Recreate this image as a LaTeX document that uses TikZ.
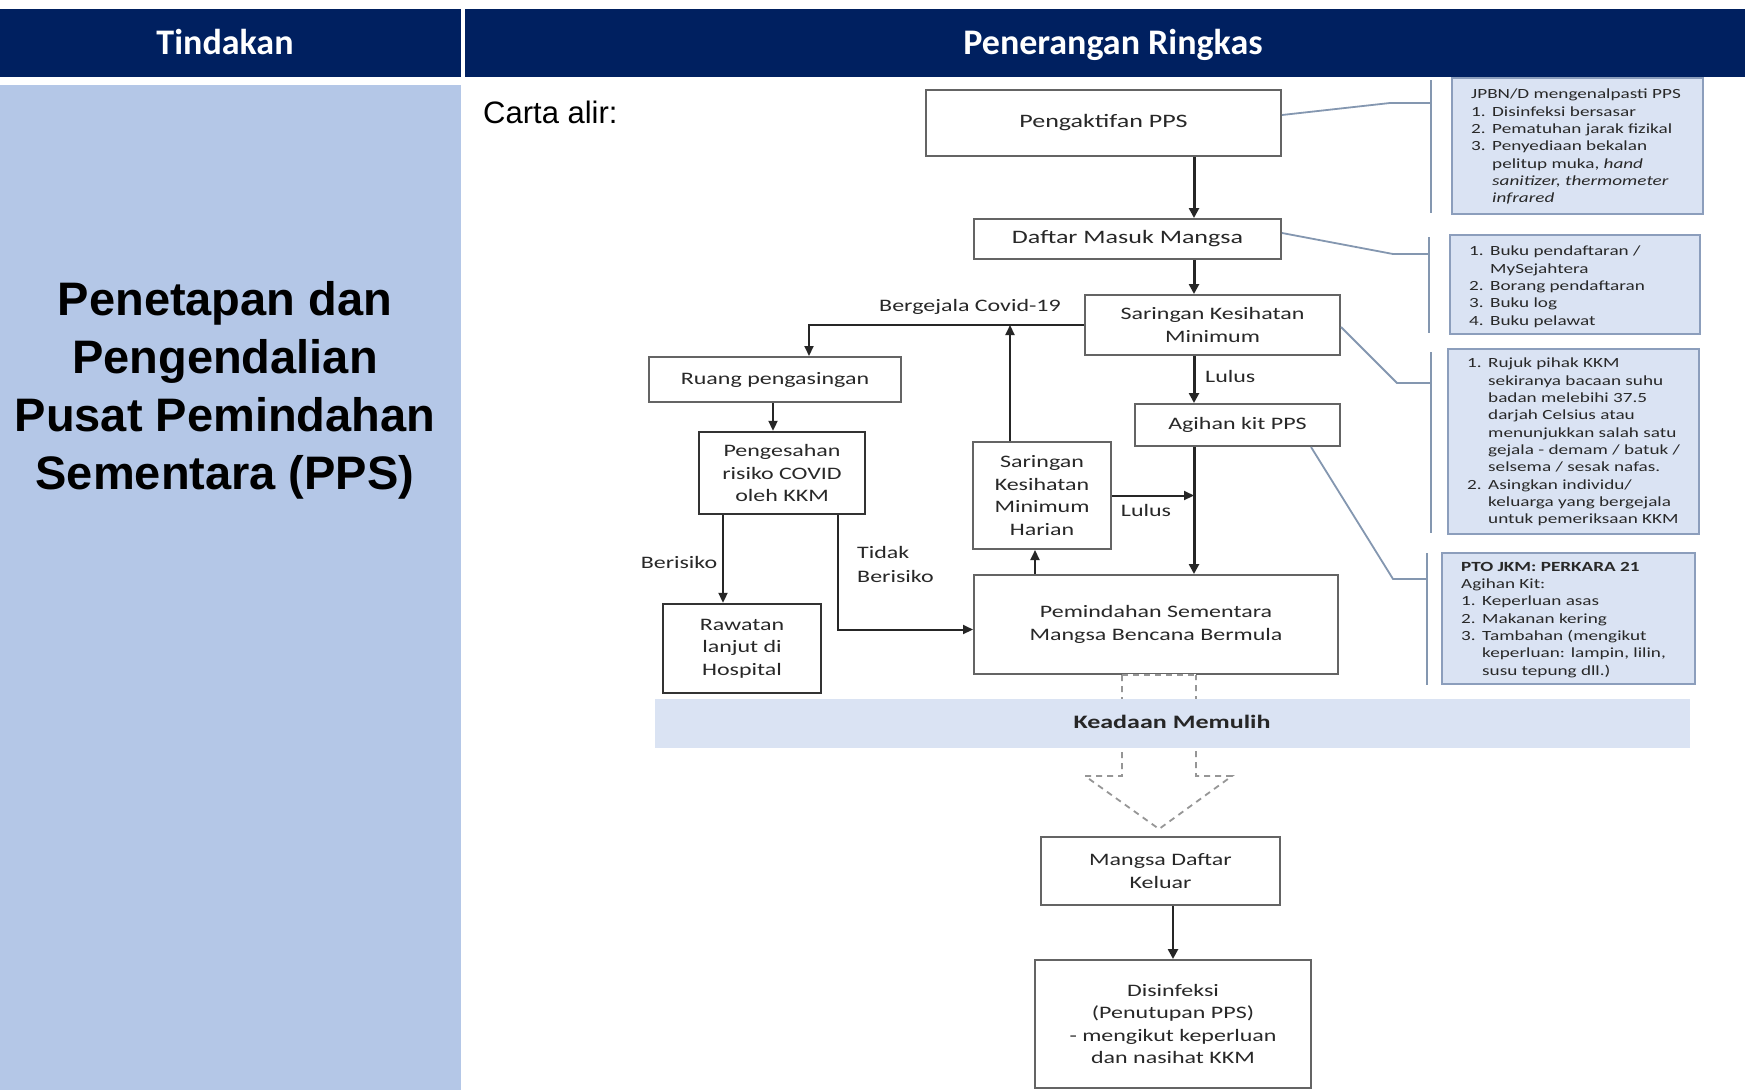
\documentclass[tikz,border=0pt]{standalone}
\usepackage{fontspec}
\setmainfont{Liberation Sans}
\newfontfamily\hdrfont{Carlito}
\newfontfamily\flowfont[FakeStretch=1.37]{Carlito}
\usetikzlibrary{arrows.meta,calc}
\definecolor{navy}{RGB}{0,32,96}
\definecolor{leftblue}{RGB}{180,199,231}
\definecolor{bandblue}{RGB}{218,227,243}
\definecolor{infofill}{RGB}{218,227,243}
\definecolor{infoborder}{RGB}{140,158,188}
\definecolor{infoline}{RGB}{132,151,176}
\definecolor{boxline}{RGB}{100,100,100}
\definecolor{flowtext}{RGB}{40,40,40}
\definecolor{dashgray}{RGB}{150,150,150}
\newcommand{\itm}[1]{\makebox[21pt][l]{#1}}
\newcommand{\ind}{\hspace*{21pt}}
\begin{document}
\begin{tikzpicture}[x=1pt,y=-1pt,
  fbox/.style={draw=boxline,line width=2pt,fill=white,inner sep=0pt,align=center,text=flowtext,font=\flowfont\fontsize{17.5}{22.5}\selectfont},
  dbox/.style={fbox,draw=black!80,line width=2.4pt},
  ibox/.style={draw=infoborder,line width=2pt,fill=infofill,inner sep=0pt},
  itext/.style={inner sep=0pt,align=left,anchor=north west,text=flowtext,font=\flowfont\fontsize{14}{17.3}\selectfont},
  lbl/.style={inner sep=0pt,text=flowtext,font=\flowfont\fontsize{17.5}{24}\selectfont},
  arr/.style={line width=2pt,draw=black!85,-{Triangle[length=10pt,width=9pt]}},
  marr/.style={line width=3pt,draw=black!85,-{Triangle[length=10pt,width=10pt]}},
  iline/.style={line width=1.8pt,draw=infoline},
  dline/.style={line width=1.8pt,draw=dashgray,dash pattern=on 6pt off 5pt}
]
\useasboundingbox (0,0) rectangle (1745,1090);
\fill[white] (0,0) rectangle (1745,1090);
% header
\fill[navy] (0,9) rectangle (461,77);
\fill[navy] (465,9) rectangle (1745,77);
\node[anchor=base,text=white,font=\hdrfont\bfseries\fontsize{36}{40}\selectfont,inner sep=0pt] (h1) at (225,54) {Tindakan};
\node[anchor=base,text=white,font=\hdrfont\bfseries\fontsize{36}{40}\selectfont,inner sep=0pt] (h2) at (1113,54) {Penerangan Ringkas};
% left column
\fill[leftblue] (0,85) rectangle (461,1090);
\node[align=center,font=\bfseries\fontsize{47}{58}\selectfont,inner sep=0pt] (title) at (225,390)
  {Penetapan dan\\Pengendalian\\Pusat Pemindahan\\Sementara (PPS)};
\node[anchor=west,font=\fontsize{31}{36}\selectfont,inner sep=0pt] (carta) at (483,112) {Carta alir:};

% flowchart boxes
\node[fbox,minimum width=355pt,minimum height=66pt,font=\flowfont\fontsize{19}{23}\selectfont] (pengaktifan) at (1103.5,123) {Pengaktifan PPS};
\node[fbox,minimum width=307pt,minimum height=40pt,font=\flowfont\fontsize{19}{23}\selectfont] (daftar) at (1127.5,239) {Daftar Masuk Mangsa};
\node[fbox,minimum width=255pt,minimum height=60pt] (saringan) at (1212.5,325) {Saringan Kesihatan\\Minimum};
\node[fbox,minimum width=252pt,minimum height=45pt] (ruang) at (775,379.5) {Ruang pengasingan};
\node[fbox,minimum width=205pt,minimum height=42pt] (agihan) at (1237.5,425) {Agihan kit PPS};
\node[dbox,minimum width=166pt,minimum height=82pt] (pengesahan) at (782,473) {Pengesahan\\risiko COVID\\oleh KKM};
\node[fbox,minimum width=138pt,minimum height=107pt] (harian) at (1042,495.5) {Saringan\\Kesihatan\\Minimum\\Harian};
\node[fbox,minimum width=364pt,minimum height=99pt] (pemindahan) at (1156,624.5) {Pemindahan Sementara\\Mangsa Bencana Bermula};
\node[dbox,minimum width=158pt,minimum height=89pt] (rawatan) at (742,648.5) {Rawatan\\lanjut di\\Hospital};

% dashed hollow arrow
\coordinate (s1) at ([xshift=-34pt]pemindahan.south);
\coordinate (s2) at ([xshift=40pt]pemindahan.south);
\coordinate (hh1) at (1122,776);
\coordinate (hh2) at (1196,776);
\coordinate (e1) at (1085,776);
\coordinate (e2) at (1232,776);
\coordinate (tip) at (1159,829);
\draw[white,line width=2.6pt] (s1) -- (s2);
\draw[dline] (s1) -- (s2);
\draw[dline] (s1) -- (hh1) -- (e1) -- (tip) -- (e2) -- (hh2) -- (s2);

% band
\node[fill=bandblue,minimum width=1035pt,minimum height=49pt,inner sep=0pt] (band) at (1172.5,723.5) {};
\node[inner sep=0pt,text=black!85,font=\flowfont\bfseries\fontsize{19}{23}\selectfont] (bandtxt) at (1172,722) {Keadaan Memulih};

\node[fbox,minimum width=239pt,minimum height=68pt] (keluar) at (1160.5,871) {Mangsa Daftar\\Keluar};
\node[fbox,minimum width=276pt,minimum height=128pt] (disinfeksi) at (1173,1024) {Disinfeksi\\(Penutupan PPS)\\- mengikut keperluan\\dan nasihat KKM};

% arrows
\coordinate (mx) at (1194,0);
\draw[marr] (pengaktifan.south -| mx) -- (daftar.north -| mx);
\draw[marr] (daftar.south -| mx) -- (saringan.north -| mx);
\draw[marr] (saringan.south -| mx) -- (agihan.north -| mx);
\draw[marr] (agihan.south -| mx) -- (pemindahan.north -| mx);
\draw[arr] (saringan.west) -| ([xshift=34pt]ruang.north);
\draw[arr] ([xshift=-32pt]harian.north) -- ([xshift=-32pt]harian.north |- saringan.west);
\draw[arr] ([xshift=-2pt]ruang.south) -- ([xshift=-2pt]ruang.south |- pengesahan.north);
\draw[arr] ([xshift=-19pt]rawatan.north |- pengesahan.south) -- ([xshift=-19pt]rawatan.north);
\draw[arr] ([xshift=56pt]pengesahan.south) |- ([yshift=-5pt]pemindahan.west);
\draw[arr] (harian.east) -- (harian.east -| mx);
\draw[arr] ([xshift=-7pt]harian.south |- pemindahan.north) -- ([xshift=-7pt]harian.south);
\draw[marr,line width=2.6pt] (disinfeksi.north |- keluar.south) -- (disinfeksi.north);

% labels
\node[lbl] (l1) at (970,307) {Bergejala Covid-19};
\node[lbl,anchor=west] (l2) at (1205,376) {Lulus};
\node[lbl] (l3) at (1146,510) {Lulus};
\node[lbl] (l4) at (679,562) {Berisiko};
\node[lbl,anchor=west,align=left] (l5) at (857,564) {Tidak\\Berisiko};

% info boxes
\node[ibox,minimum width=251pt,minimum height=136pt] (b1) at (1577.5,146) {};
\node[ibox,minimum width=250pt,minimum height=99pt] (b2) at (1575,284.5) {};
\node[ibox,minimum width=251pt,minimum height=185pt] (b3) at (1573.5,441.5) {};
\node[ibox,minimum width=253pt,minimum height=131pt] (b4) at (1568.5,618.5) {};

\node[itext] (t1) at (1471,89) {JPBN/D mengenalpasti PPS\\
\itm{1.}Disinfeksi bersasar\\
\itm{2.}Pematuhan jarak fizikal\\
\itm{3.}Penyediaan bekalan\\
\ind pelitup muka, \textit{hand}\\
\ind\textit{sanitizer, thermometer}\\
\ind\textit{infrared}};
\node[itext] (t2) at (1469,246) {\itm{1.}Buku pendaftaran /\\
\ind MySejahtera\\
\itm{2.}Borang pendaftaran\\
\itm{3.}Buku log\\
\itm{4.}Buku pelawat};
\node[itext] (t3) at (1467,358) {\itm{1.}Rujuk pihak KKM\\
\ind sekiranya bacaan suhu\\
\ind badan melebihi 37.5\\
\ind darjah Celsius atau\\
\ind menunjukkan salah satu\\
\ind gejala - demam / batuk /\\
\ind selsema / sesak nafas.\\
\itm{2.}Asingkan individu/\\
\ind keluarga yang bergejala\\
\ind untuk pemeriksaan KKM};
\node[itext] (t4) at (1461,562) {\textbf{PTO JKM: PERKARA 21}\\
Agihan Kit:\\
\itm{1.}Keperluan asas\\
\itm{2.}Makanan kering\\
\itm{3.}Tambahan (mengikut\\
\ind keperluan: lampin, lilin,\\
\ind susu tepung dll.)};

% bracket lines and connectors
\coordinate (k1t) at (1431,80);
\coordinate (k1b) at (1431,213);
\coordinate (k1m) at (1390,103);
\draw[iline] (k1t) -- (k1b);
\draw[iline] ([yshift=8pt]pengaktifan.east) -- (k1m) -- (k1m -| k1t);
\coordinate (k2t) at (1429,237);
\coordinate (k2b) at (1429,333);
\coordinate (k2m) at (1393,254);
\draw[iline] (k2t) -- (k2b);
\draw[iline] ([yshift=6pt]daftar.east) -- (k2m) -- (k2m -| k2t);
\coordinate (k3t) at (1431,352);
\coordinate (k3b) at (1431,533);
\coordinate (k3m) at (1397,383);
\draw[iline] (k3t) -- (k3b);
\draw[iline] ([yshift=-2pt]saringan.east) -- (k3m) -- (k3m -| k3t);
\coordinate (k4t) at (1427,553);
\coordinate (k4b) at (1427,685);
\coordinate (k4m) at (1393,579);
\draw[iline] (k4t) -- (k4b);
\draw[iline] ([xshift=-30pt]agihan.south east) -- (k4m) -- (k4m -| k4t);
\end{tikzpicture}
\end{document}
